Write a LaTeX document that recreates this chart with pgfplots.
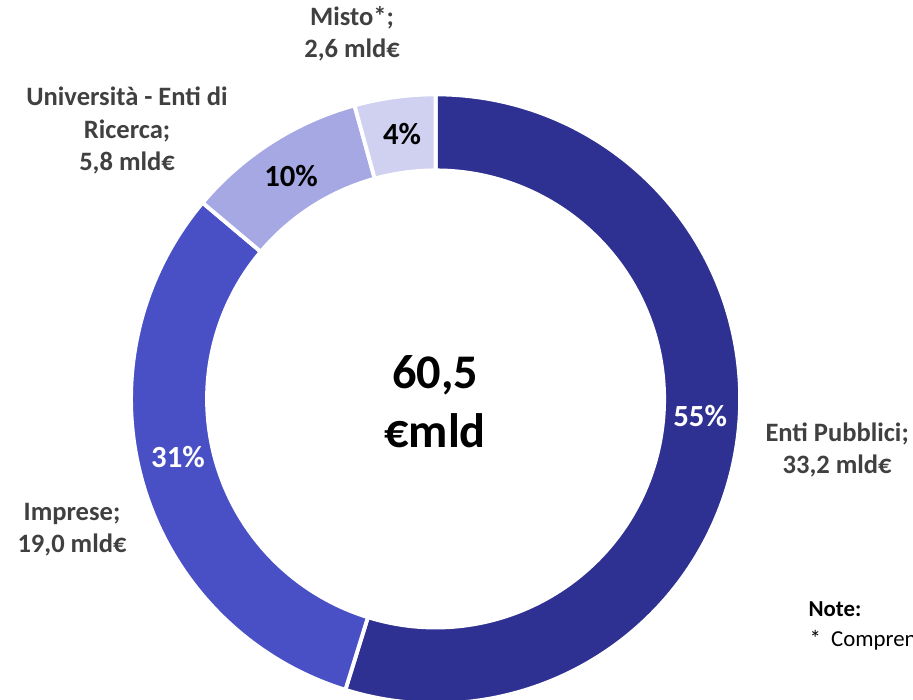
\documentclass[border=0pt]{standalone}
\usepackage{pgfplots}
\pgfplotsset{compat=1.18}
\usepackage{pgfplotstable}
\usepackage{fontspec}
\setmainfont{Carlito}

\definecolor{cEnti}{HTML}{2E3192}
\definecolor{cImprese}{HTML}{4950C6}
\definecolor{cUni}{HTML}{A5A8E3}
\definecolor{cMisto}{HTML}{D0D1F0}
\definecolor{lbl}{HTML}{404040}

% valori in mld di euro
\pgfplotstableread[col sep=comma]{
name,value
Enti Pubblici,33.2
Imprese,19.0
Universita,5.8
Misto,2.6
}\donut

% centro e raggi in pixel (1 px = 0.02 cm)
\def\cx{435.5}
\def\cy{301}
\def\ro{304.5}
\def\ri{228.5}

\newcommand\slice[3]{%
  \fill[#3, draw=white, line width=2.2pt]
    (axis cs:{\cx+\ro*cos(#1)},{\cy+\ro*sin(#1)})
    arc[start angle=#1, end angle=#2, radius=0.02*\ro cm]
    -- (axis cs:{\cx+\ri*cos(#2)},{\cy+\ri*sin(#2)})
    arc[start angle=#2, end angle=#1, radius=0.02*\ri cm] -- cycle;}

\begin{document}
\begin{tikzpicture}
\useasboundingbox (0,0) rectangle (18.26cm,14cm);

\pgfplotstablegetelem{0}{value}\of\donut \let\va\pgfplotsretval
\pgfplotstablegetelem{1}{value}\of\donut \let\vb\pgfplotsretval
\pgfplotstablegetelem{2}{value}\of\donut \let\vc\pgfplotsretval
\pgfplotstablegetelem{3}{value}\of\donut \let\vd\pgfplotsretval
\pgfmathsetmacro\tot{\va+\vb+\vc+\vd}
\pgfmathsetmacro\aA{90}
\pgfmathsetmacro\aB{\aA-360*\va/\tot}
\pgfmathsetmacro\aC{\aB-360*\vb/\tot}
\pgfmathsetmacro\aD{\aC-360*\vc/\tot}
\pgfmathsetmacro\aE{\aD-360*\vd/\tot}

\begin{axis}[
    x=0.02cm, y=0.02cm,
    xmin=0, xmax=913, ymin=0, ymax=700,
    hide axis, clip=false,
    anchor=south west, at={(0,0)},
]
\slice{\aA}{\aB}{cEnti}
\slice{\aB}{\aC}{cImprese}
\slice{\aC}{\aD}{cUni}
\slice{\aD}{\aE}{cMisto}

% percentuali
\node[anchor=base, font=\bfseries\fontsize{17.5}{21}\selectfont, text=white] at (axis cs:700,273) {55\%};
\node[anchor=base, font=\bfseries\fontsize{17.5}{21}\selectfont, text=white] at (axis cs:178,232) {31\%};
\node[anchor=base, font=\bfseries\fontsize{17.5}{21}\selectfont, text=black] at (axis cs:291,513) {10\%};
\node[anchor=base, font=\bfseries\fontsize{17.5}{21}\selectfont, text=black] at (axis cs:402,555) {4\%};

% etichette (anchor=base = ultima riga)
\node[anchor=base, font=\bfseries\fontsize{15.1}{18.7}\selectfont, text=lbl, align=center] at (axis cs:352,642) {Misto*;\\2,6 mld€};
\node[anchor=base, font=\bfseries\fontsize{15.1}{18.7}\selectfont, text=lbl, align=center] at (axis cs:127,529) {Università - Enti di\\Ricerca;\\5,8 mld€};
\node[anchor=base, font=\bfseries\fontsize{15.1}{18.7}\selectfont, text=lbl, align=center] at (axis cs:837,226) {Enti Pubblici;\\33,2 mld€};
\node[anchor=base, font=\bfseries\fontsize{15.1}{18.7}\selectfont, text=lbl, align=center] at (axis cs:72,147) {Imprese;\\19,0 mld€};

% totale
\node[anchor=base, font=\bfseries\fontsize{27.5}{34}\selectfont, text=black, align=center] at (axis cs:435,252) {60,5\\€mld};

% nota
\node[anchor=base west, font=\bfseries\fontsize{13}{16}\selectfont, inner sep=0pt] at (axis cs:808,83) {Note:};
\node[anchor=base west, font=\fontsize{13}{16}\selectfont, inner sep=0pt] at (axis cs:809,53) {*\ \ Comprende soggetti misti};
\end{axis}
\end{tikzpicture}
\end{document}
